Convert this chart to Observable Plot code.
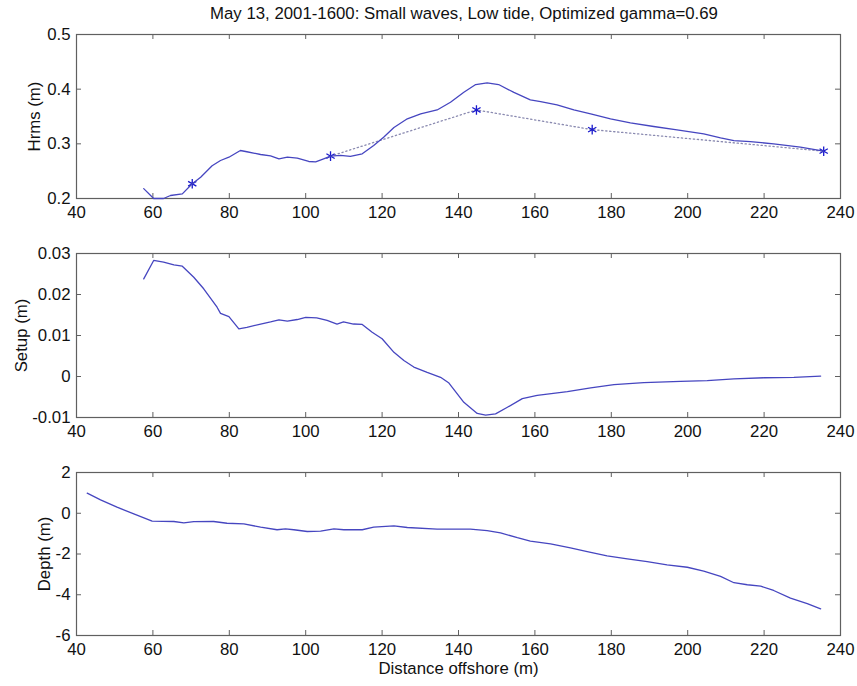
<!DOCTYPE html>
<html>
<head>
<meta charset="utf-8">
<script src="https://cdn.jsdelivr.net/npm/d3@7"></script>
<script src="https://cdn.jsdelivr.net/npm/@observablehq/plot@0.6"></script>
<style>
  html, body { margin: 0; padding: 0; background: #fff; }
  #fig { position: relative; width: 857px; height: 686px; font-family: "Liberation Sans", Arial, sans-serif; }
  #title { position: absolute; left: 0; width: 928px; top: 4px; text-align: center; font-size: 16.8px; color: #111; }
  .panel { position: absolute; left: 0; }
</style>
</head>
<body>
<div id="fig">
  <div id="title">May 13, 2001-1600: Small waves, Low tide, Optimized gamma=0.69</div>
</div>
<script>
// ---- data ----
const xTicks = [40, 60, 80, 100, 120, 140, 160, 180, 200, 220, 240];
const hrmsTicks = [0.2, 0.3, 0.4, 0.5];
const setupTicks = [-0.01, 0, 0.01, 0.02, 0.03];
const depthTicks = [-6, -4, -2, 0, 2];

// Modelled Hrms (solid line)
const hrmsX = [57.6, 60.2, 62.8, 64.6, 67.7, 70.3, 72.5, 75.5, 77.7, 79.9, 82.9, 84.6, 88.2, 90.8, 93.0, 95.2, 97.8, 100.8, 102.6, 104.7, 106.5, 109.1, 111.7, 114.8, 117.8, 120.4, 123.1, 126.6, 130.1, 134.4, 137.9, 141.4, 144.5, 147.5, 150.5, 154.5, 158.8, 161.5, 165.8, 170.2, 174.6, 179.8, 185.0, 191.1, 197.2, 204.2, 208.6, 212.1, 216.4, 222.5, 229.5, 235.6];
const hrmsY = [0.218, 0.200, 0.200, 0.2055, 0.2085, 0.227, 0.239, 0.260, 0.2695, 0.2755, 0.2878, 0.2855, 0.2805, 0.278, 0.2726, 0.2755, 0.274, 0.2677, 0.267, 0.2726, 0.2775, 0.279, 0.277, 0.2817, 0.297, 0.312, 0.330, 0.3458, 0.355, 0.362, 0.376, 0.3944, 0.4085, 0.4116, 0.4085, 0.394, 0.3805, 0.3774, 0.3714, 0.362, 0.355, 0.3458, 0.3385, 0.3317, 0.3256, 0.3183, 0.311, 0.306, 0.304, 0.300, 0.2938, 0.2866];

// Observed Hrms (asterisks) and dotted connection
const obsX = [70.3, 106.5, 144.7, 175.0, 235.6];
const obsY = [0.227, 0.2775, 0.362, 0.326, 0.2866];
const dotX = [106.5, 144.7, 175.0, 235.6];
const dotY = [0.2775, 0.362, 0.326, 0.2866];

// Setup
const setupX = [57.6, 60.2, 62.8, 65.5, 67.7, 70.7, 73.3, 76.8, 77.7, 79.9, 82.5, 84.6, 88.2, 90.8, 93.0, 95.2, 97.8, 100.0, 102.9, 105.6, 108.2, 109.9, 112.5, 114.8, 117.4, 120.0, 123.1, 125.7, 128.3, 131.8, 135.3, 137.5, 141.4, 144.9, 147.1, 149.7, 152.8, 156.7, 160.6, 168.5, 174.6, 180.7, 188.5, 198.1, 205.1, 212.1, 220.0, 227.8, 234.8];
const setupY = [0.0238, 0.0283, 0.0279, 0.0272, 0.0269, 0.0242, 0.0214, 0.0169, 0.0154, 0.0146, 0.0116, 0.0120, 0.0128, 0.0133, 0.0138, 0.0135, 0.0139, 0.0144, 0.0143, 0.0137, 0.0128, 0.0133, 0.0128, 0.0127, 0.0108, 0.0092, 0.0059, 0.0039, 0.0023, 0.0010, -0.0002, -0.0016, -0.0063, -0.0090, -0.0094, -0.0091, -0.0075, -0.0054, -0.0046, -0.0037, -0.0028, -0.0020, -0.0015, -0.0012, -0.0010, -0.0006, -0.0003, -0.0002, 0.0001];

// Depth
const depthX = [42.8, 46.3, 50.6, 55.0, 59.8, 65.5, 68.1, 70.7, 75.9, 79.4, 83.8, 88.2, 92.5, 94.7, 96.9, 100.4, 103.9, 107.4, 110.0, 114.8, 117.8, 123.1, 126.6, 134.4, 143.1, 147.5, 151.0, 155.4, 158.8, 164.1, 169.3, 173.7, 178.9, 184.2, 189.4, 194.6, 199.9, 204.2, 208.6, 212.1, 215.6, 219.1, 222.5, 226.9, 231.3, 234.8];
const depthY = [0.985, 0.66, 0.297, -0.027, -0.39, -0.405, -0.47, -0.41, -0.405, -0.49, -0.52, -0.685, -0.81, -0.77, -0.81, -0.896, -0.88, -0.765, -0.81, -0.81, -0.685, -0.62, -0.70, -0.78, -0.78, -0.85, -0.96, -1.2, -1.37, -1.5, -1.70, -1.88, -2.09, -2.24, -2.37, -2.53, -2.65, -2.84, -3.10, -3.41, -3.51, -3.58, -3.79, -4.17, -4.44, -4.69];

// ---- drawing ----
const W = 857, ML = 76, MR = 17;
const lineColor = "#4646c0";
const frameColor = "#606060";
const fmt = d => String(d);

function panel({top, yDomain, yTicks, yLabel, yLabelOffset, xs, ys, extra = [], marginBottom = 30, frameH = 164, xLabel = null}) {
  const marginTop = 10;
  const height = marginTop + frameH + marginBottom;
  const rows = xs.map((x, i) => ({x, y: ys[i]}));
  const chart = Plot.plot({
    width: W, height,
    marginLeft: ML, marginRight: MR, marginTop, marginBottom,
    style: {fontFamily: "Liberation Sans, Arial, sans-serif", fontSize: "16.8px", color: "#111", background: "transparent"},
    x: {domain: [40, 240]},
    y: {domain: yDomain},
    marks: [
      Plot.axisX({ticks: xTicks, tickSize: 0, tickPadding: 8, tickFormat: fmt,
        label: xLabel, labelAnchor: "center", labelArrow: "none", labelOffset: 38}),
      Plot.axisY({ticks: yTicks, tickSize: 0, tickPadding: 6, tickFormat: fmt,
        label: yLabel, labelAnchor: "center", labelArrow: "none", labelOffset: yLabelOffset}),
      Plot.tickX(xTicks, {x: d => d, insetTop: frameH - 5, stroke: frameColor}),
      Plot.tickX(xTicks, {x: d => d, insetBottom: frameH - 5, stroke: frameColor}),
      Plot.tickY(yTicks, {y: d => d, insetLeft: (W - ML - MR) - 5, stroke: frameColor}),
      Plot.tickY(yTicks, {y: d => d, insetRight: (W - ML - MR) - 5, stroke: frameColor}),
      Plot.frame({stroke: frameColor, strokeWidth: 1.2}),
      ...extra,
      Plot.line(rows, {x: "x", y: "y", stroke: lineColor, strokeWidth: 1.3})
    ]
  });
  chart.classList.add("panel");
  chart.style.top = top + "px";
  document.getElementById("fig").appendChild(chart);
}

const obsRows = obsX.map((x, i) => ({x, y: obsY[i]}));
const dotRows = dotX.map((x, i) => ({x, y: dotY[i]}));

panel({
  top: 24, yDomain: [0.2, 0.5], yTicks: hrmsTicks, yLabel: "Hrms (m)", yLabelOffset: 48,
  xs: hrmsX, ys: hrmsY,
  extra: [
    Plot.line(dotRows, {x: "x", y: "y", stroke: "#8a8ab0", strokeWidth: 1.3, strokeDasharray: "1.3,2.7"}),
    Plot.dot(obsRows, {x: "x", y: "y", symbol: "asterisk", r: 4.5, stroke: "#1a1acc", strokeWidth: 1.3})
  ]
});

panel({
  top: 243, yDomain: [-0.01, 0.03], yTicks: setupTicks, yLabel: "Setup (m)", yLabelOffset: 61,
  xs: setupX, ys: setupY
});

panel({
  top: 462, yDomain: [-6, 2], yTicks: depthTicks, yLabel: "Depth (m)", yLabelOffset: 38,
  xs: depthX, ys: depthY, frameH: 163, marginBottom: 50, xLabel: "Distance offshore (m)"
});
</script>
</body>
</html>
